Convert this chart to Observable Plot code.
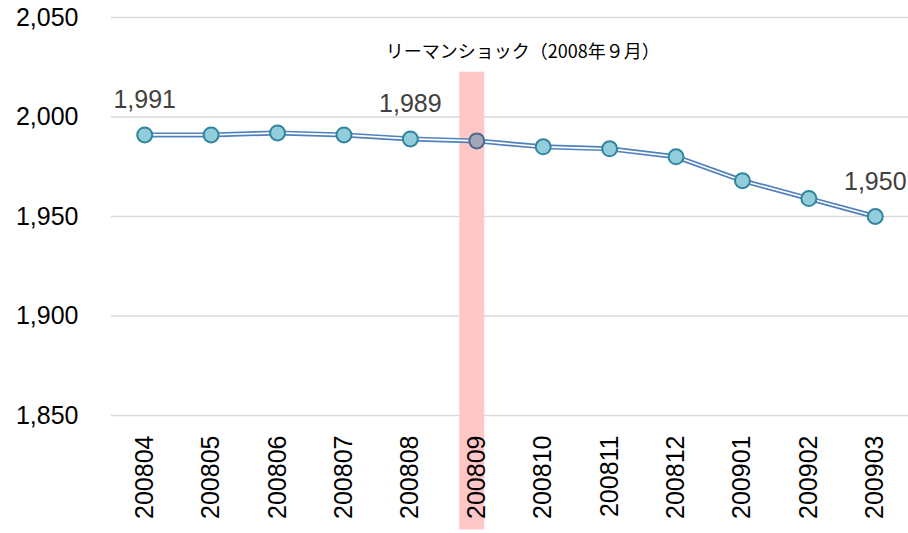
<!DOCTYPE html>
<html>
<head>
<meta charset="utf-8">
<script src="https://cdn.jsdelivr.net/npm/d3@7"></script>
<script src="https://cdn.jsdelivr.net/npm/@observablehq/plot@0.6"></script>
<style>
  html, body { margin: 0; padding: 0; background: #fff; }
  #chart svg { display: block; }
</style>
</head>
<body>
<div id="chart"></div>
<script>
const months = ["200804","200805","200806","200807","200808","200809","200810","200811","200812","200901","200902","200903"];
const values = [1991, 1991, 1992, 1991, 1989, 1988, 1985, 1984, 1980, 1968, 1959, 1950];
const labeledMonths = ["200804", "200808", "200903"];
const highlightMonth = "200809";
const annotation = "リーマンショック（2008年９月）";
const yTicks = [1850, 1900, 1950, 2000, 2050];

const data = months.map((m, i) => ({month: m, value: values[i]}));
const labelData = data.filter(d => labeledMonths.includes(d.month));
const hiData = data.filter(d => d.month === highlightMonth);
const otherData = data.filter(d => d.month !== highlightMonth);

const W = 908, H = 533, mL = 111, mR = 0;
const bw = (W - mL - mR) / months.length;
const bandInset = (bw - 25) / 2;

const fmt = d3.format(",");

const chart = Plot.plot({
  width: W,
  height: H,
  marginLeft: mL,
  marginRight: mR,
  marginTop: 17,
  marginBottom: 118,
  style: {fontFamily: "'Liberation Sans', sans-serif", background: "#fff"},
  x: {type: "band", domain: months, padding: 0, round: false, label: null},
  y: {domain: [1850, 2050], label: null},
  marks: [
    Plot.gridY(yTicks, {stroke: "#d9d9d9", strokeOpacity: 1, strokeWidth: 1.5}),
    Plot.barY([highlightMonth], {x: d => d, y1: 1792.5, y2: 2022.5, fill: "#ffc7c7", insetLeft: bandInset - 4.5, insetRight: bandInset + 4.5}),
    Plot.axisY(yTicks, {tickSize: 0, tickPadding: 33, fontSize: 25, fill: "#000", tickFormat: fmt, label: null}),
    Plot.axisX({tickSize: 0, tickPadding: 20, tickRotate: -90, fontSize: 25, fill: "#000", label: null}),
    Plot.line(data, {x: "month", y: "value", stroke: "#4f81bd", strokeWidth: 5}),
    Plot.line(data, {x: "month", y: "value", stroke: "#fff", strokeWidth: 1.6}),
    Plot.dot(otherData, {x: "month", y: "value", r: 7.5, fill: "#92cddc", stroke: "#31859c", strokeWidth: 2}),
    Plot.dot(hiData, {x: "month", y: "value", r: 7.5, fill: "#a6a6b9", stroke: "#4a6a8c", strokeWidth: 2}),
    Plot.text(labelData, {x: "month", y: "value", text: d => fmt(d.value), dy: -35, fontSize: 25, fill: "#404040"}),
    Plot.text([annotation], {x: () => highlightMonth, y: () => 2032.5, text: d => d, dx: 46, fontSize: 18, fill: "#000", fontFamily: "'Noto Sans CJK JP', sans-serif"})
  ]
});
document.getElementById("chart").appendChild(chart);
</script>
</body>
</html>
